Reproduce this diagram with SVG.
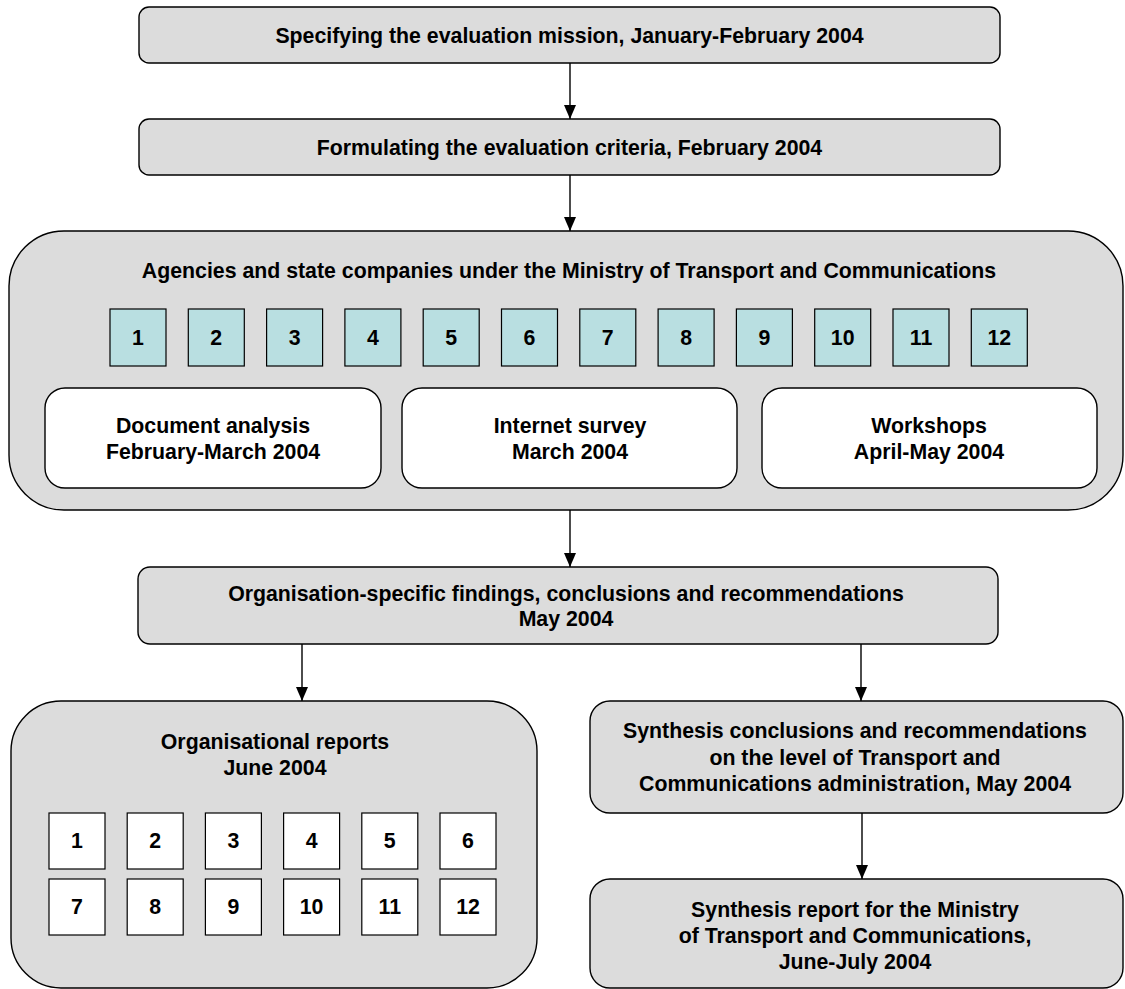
<svg xmlns="http://www.w3.org/2000/svg" width="1125" height="989" viewBox="0 0 1125 989">
<style>
.t{font-family:"Liberation Sans",Arial,sans-serif;font-weight:bold;font-size:21.3px;text-anchor:middle;fill:#000}
.g{fill:#dcdcdc;stroke:#000;stroke-width:1.4}
.w{fill:#fff;stroke:#000;stroke-width:1.4}
.c{fill:#b9dfe1;stroke:#000;stroke-width:1.2}
.s{fill:#fff;stroke:#000;stroke-width:1.2}
.e{stroke:#000;stroke-width:1.4;fill:none}
</style>
<defs>
<marker id="ah" viewBox="0 0 14 12" refX="14" refY="6" markerWidth="14" markerHeight="12" markerUnits="userSpaceOnUse" orient="auto">
<polygon points="0,0 14,6 0,12" fill="#000"/>
</marker>
</defs>
<rect width="1125" height="989" fill="#fff"/>

<g id="connectors">
<line class="e" x1="570" y1="63" x2="570" y2="119" marker-end="url(#ah)"/>
<line class="e" x1="570" y1="175" x2="570" y2="231" marker-end="url(#ah)"/>
<line class="e" x1="570" y1="510" x2="570" y2="567" marker-end="url(#ah)"/>
<line class="e" x1="302" y1="644" x2="302" y2="701" marker-end="url(#ah)"/>
<line class="e" x1="861" y1="644" x2="861" y2="701" marker-end="url(#ah)"/>
<line class="e" x1="862" y1="813" x2="862" y2="879" marker-end="url(#ah)"/>
</g>

<g id="n-mission">
<rect class="g" x="139" y="7" width="861" height="56" rx="10"/>
<text class="t" x="569.5" y="43">Specifying the evaluation mission, January-February 2004</text>
</g>

<g id="n-criteria">
<rect class="g" x="139" y="119" width="861" height="56" rx="10"/>
<text class="t" x="569.5" y="155">Formulating the evaluation criteria, February 2004</text>
</g>

<g id="n-agencies">
<rect class="g" x="9" y="231" width="1114" height="279" rx="55"/>
<text class="t" x="569" y="278">Agencies and state companies under the Ministry of Transport and Communications</text>
<g id="agency-boxes">
<rect class="c" x="110" y="309" width="56" height="57"/><text class="t" x="138" y="345">1</text>
<rect class="c" x="188.3" y="309" width="56" height="57"/><text class="t" x="216.3" y="345">2</text>
<rect class="c" x="266.6" y="309" width="56" height="57"/><text class="t" x="294.6" y="345">3</text>
<rect class="c" x="344.9" y="309" width="56" height="57"/><text class="t" x="372.9" y="345">4</text>
<rect class="c" x="423.2" y="309" width="56" height="57"/><text class="t" x="451.2" y="345">5</text>
<rect class="c" x="501.5" y="309" width="56" height="57"/><text class="t" x="529.5" y="345">6</text>
<rect class="c" x="579.8" y="309" width="56" height="57"/><text class="t" x="607.8" y="345">7</text>
<rect class="c" x="658.1" y="309" width="56" height="57"/><text class="t" x="686.1" y="345">8</text>
<rect class="c" x="736.4" y="309" width="56" height="57"/><text class="t" x="764.4" y="345">9</text>
<rect class="c" x="814.7" y="309" width="56" height="57"/><text class="t" x="842.7" y="345">10</text>
<rect class="c" x="893" y="309" width="56" height="57"/><text class="t" x="921" y="345">11</text>
<rect class="c" x="971.3" y="309" width="56" height="57"/><text class="t" x="999.3" y="345">12</text>
</g>
</g>

<g id="n-document">
<rect class="w" x="45" y="388" width="336" height="100" rx="20"/>
<text class="t" x="213" y="433">Document analysis</text>
<text class="t" x="213" y="459">February-March 2004</text>
</g>

<g id="n-internet">
<rect class="w" x="402" y="388" width="335" height="100" rx="20"/>
<text class="t" x="570" y="433">Internet survey</text>
<text class="t" x="570" y="459">March 2004</text>
</g>

<g id="n-workshops">
<rect class="w" x="762" y="388" width="335" height="100" rx="20"/>
<text class="t" x="929" y="433">Workshops</text>
<text class="t" x="929" y="459">April-May 2004</text>
</g>

<g id="n-findings">
<rect class="g" x="138" y="567" width="860" height="77" rx="12"/>
<text class="t" x="566" y="600.5">Organisation-specific findings, conclusions and recommendations</text>
<text class="t" x="566" y="626">May 2004</text>
</g>

<g id="n-orgreports">
<rect class="g" x="11" y="701" width="526" height="287" rx="50"/>
<text class="t" x="275" y="749">Organisational reports</text>
<text class="t" x="275" y="775">June 2004</text>
<g id="report-boxes">
<rect class="s" x="49" y="813" width="56" height="56"/><text class="t" x="77" y="848">1</text>
<rect class="s" x="127.2" y="813" width="56" height="56"/><text class="t" x="155.2" y="848">2</text>
<rect class="s" x="205.4" y="813" width="56" height="56"/><text class="t" x="233.4" y="848">3</text>
<rect class="s" x="283.6" y="813" width="56" height="56"/><text class="t" x="311.6" y="848">4</text>
<rect class="s" x="361.8" y="813" width="56" height="56"/><text class="t" x="389.8" y="848">5</text>
<rect class="s" x="440" y="813" width="56" height="56"/><text class="t" x="468" y="848">6</text>
<rect class="s" x="49" y="879" width="56" height="56"/><text class="t" x="77" y="914">7</text>
<rect class="s" x="127.2" y="879" width="56" height="56"/><text class="t" x="155.2" y="914">8</text>
<rect class="s" x="205.4" y="879" width="56" height="56"/><text class="t" x="233.4" y="914">9</text>
<rect class="s" x="283.6" y="879" width="56" height="56"/><text class="t" x="311.6" y="914">10</text>
<rect class="s" x="361.8" y="879" width="56" height="56"/><text class="t" x="389.8" y="914">11</text>
<rect class="s" x="440" y="879" width="56" height="56"/><text class="t" x="468" y="914">12</text>
</g>
</g>

<g id="n-synthesis">
<rect class="g" x="590" y="701" width="533" height="112" rx="20"/>
<text class="t" x="855" y="738">Synthesis conclusions and recommendations</text>
<text class="t" x="855" y="764.5">on the level of Transport and</text>
<text class="t" x="855" y="791">Communications administration, May 2004</text>
</g>

<g id="n-report">
<rect class="g" x="590" y="879" width="533" height="109" rx="20"/>
<text class="t" x="855" y="917">Synthesis report for the Ministry</text>
<text class="t" x="855" y="943">of Transport and Communications,</text>
<text class="t" x="855" y="969">June-July 2004</text>
</g>
</svg>
